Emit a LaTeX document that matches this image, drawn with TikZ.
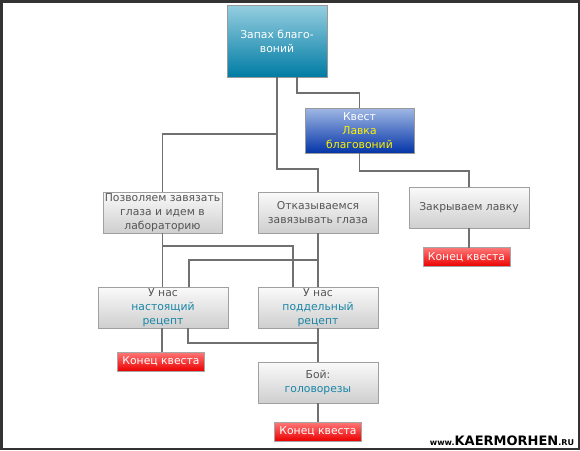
\documentclass[tikz,border=0pt]{standalone}
\usepackage{fontspec}
\setmainfont{DejaVu Sans}
\definecolor{txtgray}{HTML}{555555}
\definecolor{txtteal}{HTML}{1A86A6}
\definecolor{linegray}{HTML}{707070}
\definecolor{boxborder}{HTML}{A0A0A0}
\begin{document}
\begin{tikzpicture}[x=1pt,y=-1pt,
  every node/.style={inner sep=0pt,outer sep=0pt,align=center,font=\fontsize{10.8}{13.8}\selectfont},
  graybox/.style={draw=boxborder,line width=0.8pt,top color=white!96!gray,bottom color=gray!38,text=txtgray,minimum width=120pt,minimum height=41pt},
  tealbox/.style={draw=gray!80,line width=0.8pt,top color={rgb,255:red,150;green,206;blue,224},bottom color={rgb,255:red,0;green,124;blue,164},text=white,minimum width=100pt,minimum height=72pt},
  bluebox/.style={draw=gray!80,line width=0.8pt,top color={rgb,255:red,160;green,184;blue,228},bottom color={rgb,255:red,4;green,52;blue,168},text=white,minimum width=109pt,minimum height=45pt},
  endbox/.style={draw=gray!70,line width=0.8pt,top color={rgb,255:red,255;green,120;blue,120},bottom color={rgb,255:red,235;green,0;blue,0},text=white,minimum width=87pt,minimum height=19pt},
  conn/.style={draw=linegray,line width=1.3pt}]
\useasboundingbox (0,0) rectangle (580,450);
\fill[white] (0,0) rectangle (580,450);
\draw[black!80,line width=2.5pt] (1.25,1.25) rectangle (578.75,448.75);

\node[tealbox] (top) at (277,41) {Запах благо-\\воний};
\node[bluebox] (kvest) at (359.5,130.5) {Квест\\\textcolor{yellow}{Лавка}\\\textcolor{yellow}{благовоний}};
\node[graybox,minimum width=119pt] (pozv) at (162.5,212.5) {Позволяем завязать\\глаза и идем в\\лабораторию};
\node[graybox] (otk) at (318,212.5) {Отказываемся\\завязывать глаза};
\node[graybox] (zakr) at (469,207.5) {Закрываем лавку};
\node[endbox] (end1) at (466.5,257) {Конец квеста};
\node[graybox,minimum width=130pt] (nast) at (163,307.5) {У нас\\\textcolor{txtteal}{настоящий}\\\textcolor{txtteal}{рецепт}};
\node[graybox] (podd) at (318,307.5) {У нас\\\textcolor{txtteal}{поддельный}\\\textcolor{txtteal}{рецепт}};
\node[endbox] (end2) at (161,361.5) {Конец квеста};
\node[graybox] (boi) at (318,382.5) {Бой:\\\textcolor{txtteal}{головорезы}};
\node[endbox] (end3) at (318,431.5) {Конец квеста};

\node[anchor=south east,font=\bfseries] (wm) at (574,446) {{\fontsize{8}{8}\selectfont www.}{\fontsize{13}{13}\selectfont KAERMORHEN}{\fontsize{8}{8}\selectfont .RU}};

\draw[conn] (top.south) -- ++(0,57) -| (pozv.north);
\draw[conn] (top.south) -- ++(0,92) -| (otk.north);
\draw[conn] ([xshift=20pt]top.south) -- ++(0,16) -| (kvest.north);
\draw[conn] (kvest.south) -- ++(0,18) -| (zakr.north);
\draw[conn] (zakr.south) -- (end1.north -| zakr.south);
\draw[conn] (pozv.south) -- (pozv.south |- nast.north);
\draw[conn] (pozv.south) -- ++(0,13) -| ([xshift=-25pt]podd.north);
\draw[conn] (otk.south) -- (podd.north);
\draw[conn] ([yshift=-27pt]otk.south) -| ([xshift=26pt]nast.north);
\draw[conn] ([xshift=-1pt]nast.south) -- ([xshift=-1pt]nast.south |- end2.north);
\draw[conn] ([xshift=25pt]nast.south) -- ++(0,15) -| (podd.south);
\draw[conn] (podd.south) -- (boi.north);
\draw[conn] (boi.south) -- (end3.north);
\end{tikzpicture}
\end{document}
